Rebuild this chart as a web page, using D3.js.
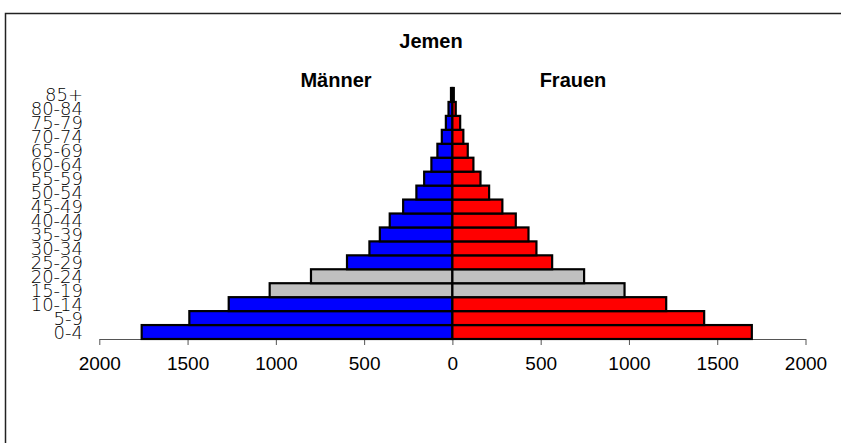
<!DOCTYPE html>
<html>
<head>
<meta charset="utf-8">
<script src="https://cdn.jsdelivr.net/npm/d3@7"></script>
<style>
  body { margin: 0; background: #fff; }
  svg { display: block; }
</style>
</head>
<body>
<svg id="chart" width="841" height="443"></svg>
<script>
const ageGroups = ['0-4', '5-9', '10-14', '15-19', '20-24', '25-29', '30-34', '35-39', '40-44',
  '45-49', '50-54', '55-59', '60-64', '65-69', '70-74', '75-79', '80-84', '85+'];
const maenner = [1760, 1490, 1267, 1035, 801, 597, 470, 411, 355, 279, 204, 160, 119, 85, 60, 37, 22, 8];
const frauen = [1696, 1426, 1211, 975, 746, 565, 476, 431, 359, 283, 208, 159, 119, 87, 62, 44, 19, 8];
const grayGroups = ['15-19', '20-24'];
const tickValues = [-2000, -1500, -1000, -500, 0, 500, 1000, 1500, 2000];

const svg = d3.select('#chart');

// frame
svg.append('path')
  .attr('d', 'M5.5,443 L5.5,13.5 L841,13.5')
  .attr('fill', 'none')
  .attr('stroke', '#222')
  .attr('stroke-width', 1.5);

const x = d3.scaleLinear()
  .domain([-2000, 2000])
  .range([99.3, 805.5]);

const y = d3.scaleBand()
  .domain(ageGroups)
  .range([339, 88])
  .padding(0);

const rows = ageGroups.map((g, i) => ({ group: g, m: maenner[i], f: frauen[i] }));

// axis
const xAxis = svg.append('g')
  .attr('transform', 'translate(0,339)')
  .call(d3.axisBottom(x).tickValues(tickValues).tickSize(6).tickSizeOuter(0)
    .tickFormat((d) => Math.abs(d)));
xAxis.select('.domain').attr('stroke', '#555');
xAxis.selectAll('.tick line').attr('stroke', '#555');
xAxis.selectAll('.tick text')
  .attr('y', 18)
  .attr('dy', '0.71em')
  .style('font-family', '"Liberation Sans", Arial, sans-serif')
  .style('font-size', '19px')
  .attr('fill', '#000');

const bars = svg.append('g');

bars.selectAll('rect.m')
  .data(rows)
  .join('rect')
  .attr('class', 'm')
  .attr('x', (d) => x(-d.m))
  .attr('y', (d) => y(d.group))
  .attr('width', (d) => x(0) - x(-d.m))
  .attr('height', y.bandwidth())
  .attr('fill', (d) => (grayGroups.includes(d.group) ? '#c0c0c0' : '#0000ff'))
  .attr('stroke', '#000')
  .attr('stroke-width', 2.2);

bars.selectAll('rect.f')
  .data(rows)
  .join('rect')
  .attr('class', 'f')
  .attr('x', x(0))
  .attr('y', (d) => y(d.group))
  .attr('width', (d) => x(d.f) - x(0))
  .attr('height', y.bandwidth())
  .attr('fill', (d) => (grayGroups.includes(d.group) ? '#c0c0c0' : '#ff0000'))
  .attr('stroke', '#000')
  .attr('stroke-width', 2.2);

// age labels
svg.append('g')
  .selectAll('text')
  .data(ageGroups)
  .join('text')
  .attr('x', 83)
  .attr('y', (d) => y(d) + y.bandwidth() / 2)
  .attr('dy', '0.36em')
  .attr('text-anchor', 'end')
  .style('font-family', '"DejaVu Sans", sans-serif')
  .style('font-weight', 300)
  .style('font-size', '18px')
  .text((d) => d);

const boldText = (tx, ty, txt) => svg.append('text')
  .attr('x', tx)
  .attr('y', ty)
  .attr('text-anchor', 'middle')
  .style('font-family', '"Liberation Sans", Arial, sans-serif')
  .style('font-weight', 'bold')
  .style('font-size', '20px')
  .text(txt);

boldText(431, 48, 'Jemen');
boldText(336, 87, 'Männer');
boldText(573, 87, 'Frauen');
</script>
</body>
</html>
